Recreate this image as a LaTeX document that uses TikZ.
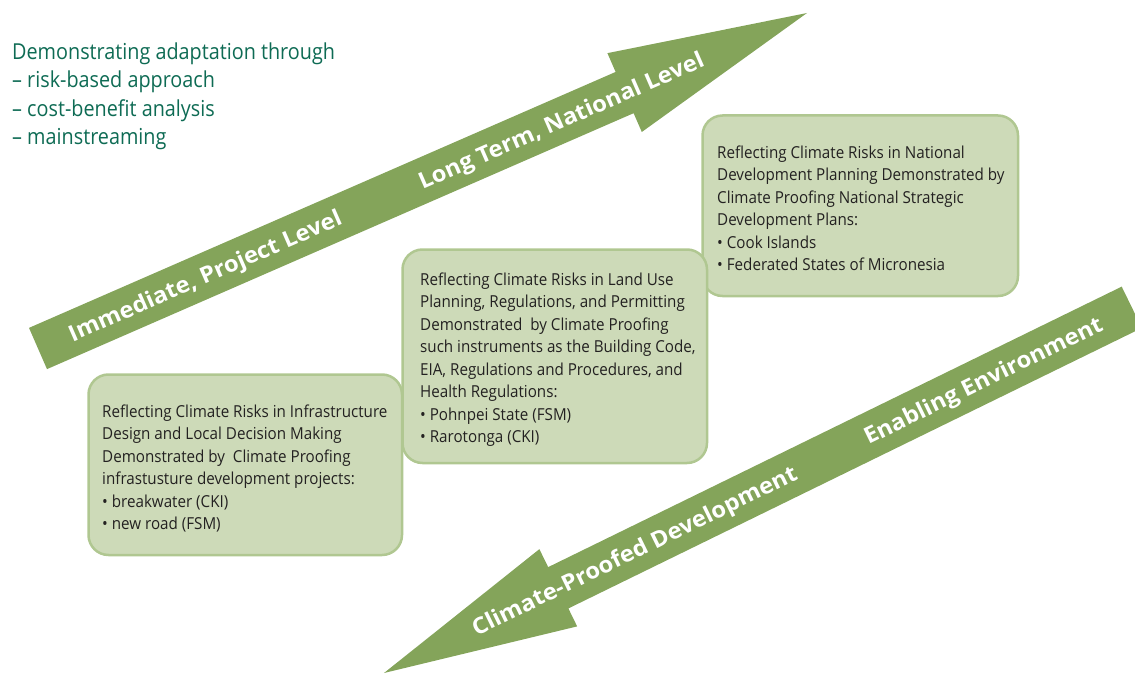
\documentclass[tikz,border=0pt]{standalone}
\usepackage{fontspec}
\setmainfont{Open Sans}
\newfontfamily\boxfont[FakeStretch=0.92]{Open Sans}
\newfontfamily\condfont[FakeStretch=0.90]{Open Sans}
\newfontfamily\labelfont[FakeStretch=1.06]{Open Sans}
\usetikzlibrary{calc}
\definecolor{arrowgreen}{RGB}{132,164,90}
\definecolor{boxfill}{RGB}{205,218,184}
\definecolor{boxborder}{RGB}{176,199,145}
\definecolor{boxtext}{RGB}{35,33,33}
\definecolor{introtext}{RGB}{14,107,84}
\begin{document}
\begin{tikzpicture}[x=1bp,y=-1bp,
  panel/.style={draw=boxborder, fill=boxfill, line width=2.5bp, rounded corners=20bp, anchor=north west, inner sep=0pt},
  panetext/.style={anchor=north west, inner sep=0pt, align=left, text=boxtext, font=\boxfont\fontsize{16.5bp}{22.5bp}\selectfont},
  arrowlabel/.style={text=white, font=\labelfont\bfseries\fontsize{22.5bp}{26bp}\selectfont, inner sep=0pt, text height=16bp, text depth=0pt},
  bigarrow/.style={fill=arrowgreen, draw=none}
]
\useasboundingbox (0,0) rectangle (1135,675);
\begin{scope}
\clip (0,0) rectangle (1135,675);
% upper arrow
\coordinate (a1s) at (38,348.5);
\coordinate (a1t) at (807,13);
\coordinate (a1b) at ($(a1t)!199bp!(a1s)$);
\fill[bigarrow] ($(a1s)!22.5bp!90:(a1t)$) -- ($(a1b)!22.5bp!90:(a1t)$) -- ($(a1b)!43bp!90:(a1t)$) -- (a1t) -- ($(a1b)!43bp!-90:(a1t)$) -- ($(a1b)!22.5bp!-90:(a1t)$) -- ($(a1s)!22.5bp!-90:(a1t)$) -- cycle;
% lower arrow
\coordinate (a2s) at (1131.8,307.3);
\coordinate (a2t) at (384,673);
\coordinate (a2b) at ($(a2t)!194bp!(a2s)$);
\fill[bigarrow] ($(a2s)!23bp!90:(a2t)$) -- ($(a2b)!23bp!90:(a2t)$) -- ($(a2b)!43bp!90:(a2t)$) -- (a2t) -- ($(a2b)!43bp!-90:(a2t)$) -- ($(a2b)!23bp!-90:(a2t)$) -- ($(a2s)!23bp!-90:(a2t)$) -- cycle;
\end{scope}
\node[arrowlabel, rotate=23.57] (l1) at ($(a1s)!0.217!(a1t)$) {Immediate, Project Level};
\node[arrowlabel, rotate=23.57] (l2) at ($(a1s)!0.680!(a1t)$) {Long Term, National Level};
\node[arrowlabel, rotate=26.06] (l3) at ($(a2s)!0.199!(a2t)$) {Enabling Environment};
\node[arrowlabel, rotate=26.06] (l4) at ($(a2s)!0.6655!(a2t)$) {Climate-Proofed Development};
% intro text
\node[anchor=north west, inner sep=0pt, align=left, text=introtext, font=\condfont\fontsize{22bp}{28.5bp}\selectfont] (intro) at (12,42.3) {Demonstrating adaptation through\\– risk-based approach\\– cost-benefit analysis\\– mainstreaming};
% panels
\node[panel, minimum width=315.5bp, minimum height=180.5bp] (box3) at (701.25,114.25) {};
\node[panel, minimum width=304.5bp, minimum height=213.5bp] (box2) at (401.25,248.25) {};
\node[panel, minimum width=313.5bp, minimum height=180.5bp] (box1) at (87.25,373.25) {};
\node[panetext] (t3) at (717,145.5) {Reflecting Climate Risks in National\\Development Planning Demonstrated by\\Climate Proofing National Strategic\\Development Plans:\\• Cook Islands\\• Federated States of Micronesia};
\node[panetext] (t2) at (420,272.5) {Reflecting Climate Risks in Land Use\\Planning, Regulations, and Permitting\\Demonstrated\ \ by Climate Proofing\\such instruments as the Building Code,\\EIA, Regulations and Procedures, and\\Health Regulations:\\• Pohnpei State (FSM)\\• Rarotonga (CKI)};
\node[panetext] (t1) at (102,404.5) {Reflecting Climate Risks in Infrastructure\\Design and Local Decision Making\\Demonstrated by\ \ Climate Proofing\\infrastusture development projects:\\• breakwater (CKI)\\• new road (FSM)};
\end{tikzpicture}
\end{document}
